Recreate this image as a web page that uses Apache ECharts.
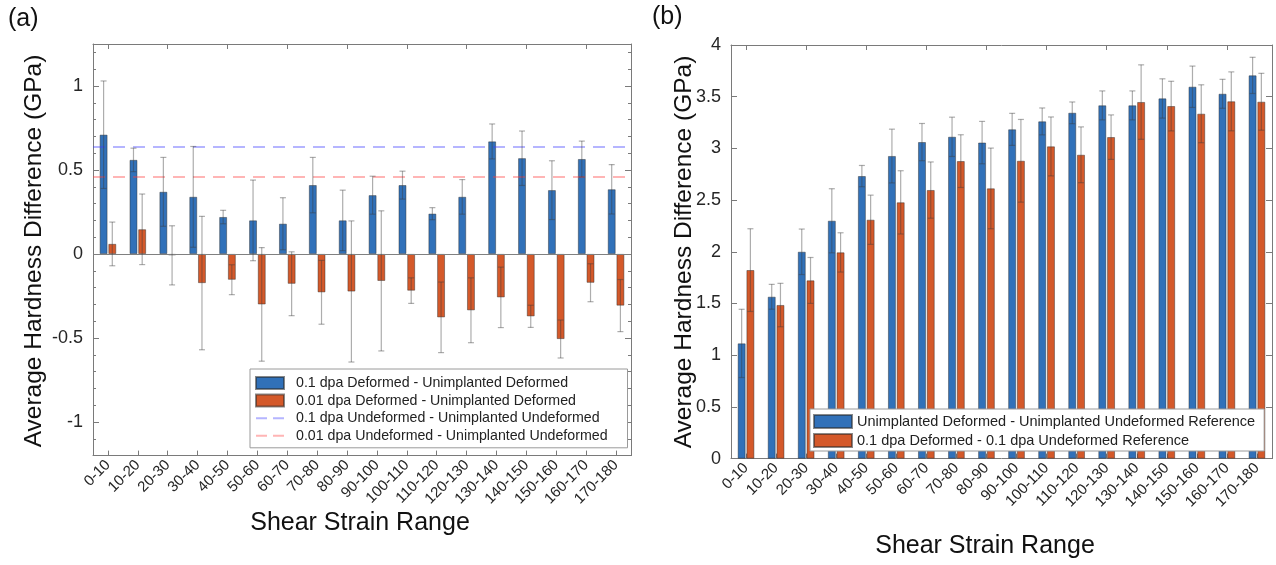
<!DOCTYPE html>
<html><head><meta charset="utf-8">
<script src="https://cdn.jsdelivr.net/npm/echarts@6/dist/echarts.min.js"></script>
<style>html,body{margin:0;padding:0;background:#fff}#c{width:1276px;height:565px}</style>
</head><body><div id="c"></div>
<script>
const categories = ['0-10','10-20','20-30','30-40','40-50','50-60','60-70','70-80','80-90','90-100','100-110','110-120','120-130','130-140','140-150','150-160','160-170','170-180'];

// Panel (a)
const aBlueName = '0.1 dpa Deformed - Unimplanted Deformed';
const aOrangeName = '0.01 dpa Deformed - Unimplanted Deformed';
const aBlueRefName = '0.1 dpa Undeformed - Unimplanted Undeformed';
const aRedRefName = '0.01 dpa Undeformed - Unimplanted Undeformed';
const aBlue = [0.71,0.56,0.37,0.34,0.22,0.20,0.18,0.41,0.20,0.35,0.41,0.24,0.34,0.67,0.57,0.38,0.565,0.385];
const aBlueErr = [0.32,0.07,0.205,0.30,0.04,0.24,0.155,0.165,0.18,0.113,0.083,0.036,0.103,0.104,0.162,0.175,0.107,0.147];
const aOrange = [0.06,0.147,-0.008,-0.173,-0.153,-0.30,-0.177,-0.228,-0.223,-0.16,-0.218,-0.377,-0.335,-0.258,-0.371,-0.506,-0.171,-0.307];
const aOrangeErr = [0.13,0.21,0.176,0.397,0.089,0.338,0.19,0.19,0.42,0.417,0.076,0.21,0.193,0.18,0.066,0.113,0.113,0.155];
const aBlueRef = 0.641;
const aRedRef = 0.4625;
const aYMajor = [-1,-0.5,0,0.5,1];

// Panel (b)
const bBlueName = 'Unimplanted Deformed - Unimplanted Undeformed Reference';
const bOrangeName = '0.1 dpa Deformed - 0.1 dpa Undeformed Reference';
const bBlue = [1.114,1.565,2.0,2.30,2.732,2.926,3.061,3.112,3.056,3.184,3.261,3.344,3.416,3.416,3.483,3.596,3.528,3.706];
const bBlueErr = [0.33,0.12,0.22,0.31,0.103,0.26,0.18,0.19,0.205,0.155,0.13,0.105,0.14,0.14,0.19,0.2,0.14,0.175];
const bOrange = [1.823,1.485,1.723,1.994,2.31,2.478,2.597,2.877,2.613,2.88,3.019,2.938,3.109,3.448,3.409,3.335,3.455,3.451];
const bOrangeErr = [0.40,0.21,0.222,0.19,0.238,0.306,0.272,0.255,0.39,0.40,0.285,0.27,0.215,0.36,0.24,0.28,0.285,0.275];

const FONT = '"Liberation Sans", Arial, Helvetica, sans-serif';
const BLUE = '#3171b9';
const ORANGE = '#d4592a';
const FRAME = '#7a7a7a';
const BAR_W = 0.26, BAR_GAP = 0.12;
const DASH_ICON = 'path://M0,5h11v2H0z M17,5h11v2H17z M0,0h0.01v0.01H0z M27.99,11.99h0.01v0.01h-0.01z';

function errSeries(name, xi, yi, vals, errs, side) {
  return {
    type: 'custom', name: name + ' err', xAxisIndex: xi, yAxisIndex: yi, z: 5, silent: true,
    encode: {x: 0, y: 1},
    data: vals.map((v, i) => [i, v, errs[i]]),
    renderItem: function (params, api) {
      const i = api.value(0), v = api.value(1), e = api.value(2);
      const band = api.size([1, 0])[0];
      const w = band * BAR_W;
      const off = (w + w * BAR_GAP) / 2 * side;
      const t = api.coord([i, v + e]);
      const b = api.coord([i, v - e]);
      const x = t[0] + off, cap = 3;
      const st = {stroke: 'rgba(60,60,60,0.42)', lineWidth: 1.2};
      return {type: 'group', children: [
        {type: 'line', shape: {x1: x, y1: t[1], x2: x, y2: b[1]}, style: st},
        {type: 'line', shape: {x1: x - cap, y1: t[1], x2: x + cap, y2: t[1]}, style: st},
        {type: 'line', shape: {x1: x - cap, y1: b[1], x2: x + cap, y2: b[1]}, style: st}
      ]};
    }
  };
}

function barSeries(name, xi, yi, vals, color, extra) {
  return Object.assign({
    type: 'bar', name: name, xAxisIndex: xi, yAxisIndex: yi, data: vals,
    barWidth: (BAR_W * 100) + '%', barGap: (BAR_GAP * 100) + '%',
    itemStyle: {color: color, borderColor: 'rgba(40,40,40,0.55)', borderWidth: 0.8},
    emphasis: {disabled: true}, animation: false
  }, extra || {});
}

function catAxis(gi, pos, labels) {
  return {
    type: 'category', gridIndex: gi, position: pos, data: categories,
    axisLine: {show: true, onZero: false, lineStyle: {color: FRAME, width: 1}},
    axisTick: {show: true, inside: true, alignWithLabel: true, length: 5, lineStyle: {color: FRAME}},
    axisLabel: labels ? {show: true, rotate: 45, interval: 0, fontSize: 15, color: '#262626', fontFamily: FONT, margin: 7} : {show: false},
    splitLine: {show: false}
  };
}

function valAxis(gi, pos, min, max, o) {
  return Object.assign({type: 'value', gridIndex: gi, position: pos, min: min, max: max, splitLine: {show: false}}, o);
}

const option = {
  animation: false,
  textStyle: {fontFamily: FONT},
  grid: [
    {left: 93, top: 44, width: 538, height: 411.6},
    {left: 731, top: 45, width: 541, height: 413.6}
  ],
  xAxis: [
    catAxis(0, 'bottom', true), catAxis(0, 'top', false),
    catAxis(1, 'bottom', true), catAxis(1, 'top', false)
  ],
  yAxis: [
    valAxis(0, 'left', -1.2, 1.25, {
      axisLine: {show: true, onZero: false, lineStyle: {color: FRAME}},
      axisTick: {show: true, inside: true, length: 6, customValues: aYMajor, lineStyle: {color: FRAME}},
      axisLabel: {show: true, customValues: aYMajor, fontSize: 18, color: '#262626', fontFamily: FONT, margin: 10}}),
    valAxis(0, 'left', -1.2, 1.25, {interval: 0.1,
      axisLine: {show: false}, axisTick: {show: true, inside: true, length: 3, lineStyle: {color: FRAME}},
      axisLabel: {show: false}}),
    valAxis(0, 'right', -1.2, 1.25, {
      axisLine: {show: true, onZero: false, lineStyle: {color: FRAME}},
      axisTick: {show: true, inside: true, length: 6, customValues: aYMajor, lineStyle: {color: FRAME}},
      axisLabel: {show: false}}),
    valAxis(0, 'right', -1.2, 1.25, {interval: 0.1,
      axisLine: {show: false}, axisTick: {show: true, inside: true, length: 3, lineStyle: {color: FRAME}},
      axisLabel: {show: false}}),
    valAxis(1, 'left', 0, 4, {interval: 0.5,
      axisLine: {show: true, onZero: false, lineStyle: {color: FRAME}},
      axisTick: {show: true, inside: true, length: 6, lineStyle: {color: FRAME}},
      axisLabel: {show: true, fontSize: 18, color: '#262626', fontFamily: FONT, margin: 10}}),
    valAxis(1, 'right', 0, 4, {interval: 0.5,
      axisLine: {show: true, onZero: false, lineStyle: {color: FRAME}},
      axisTick: {show: true, inside: true, length: 6, lineStyle: {color: FRAME}},
      axisLabel: {show: false}})
  ],
  legend: [
    {data: [{name: aBlueName, icon: 'rect'}, {name: aOrangeName, icon: 'rect'},
            {name: aBlueRefName, icon: DASH_ICON}, {name: aRedRefName, icon: DASH_ICON}],
      orient: 'vertical', left: 250, top: 369,
      itemWidth: 28, itemHeight: 12, itemGap: 3.6, padding: [7, 20, 5, 5], selectedMode: false,
      borderColor: '#9a9a9a', borderWidth: 1, backgroundColor: '#fff', borderRadius: 0,
      textStyle: {fontSize: 14.2, color: '#222', fontFamily: FONT, padding: [0, 0, 0, 7]}},
    {data: [{name: bBlueName, icon: 'rect'}, {name: bOrangeName, icon: 'rect'}],
      orient: 'vertical', left: 810, top: 409,
      itemWidth: 38, itemHeight: 13, itemGap: 4, padding: [5, 9, 3, 3], selectedMode: false,
      borderColor: '#9a9a9a', borderWidth: 1, backgroundColor: '#fff', borderRadius: 0,
      textStyle: {fontSize: 14.5, color: '#222', fontFamily: FONT}}
  ],
  series: [
    barSeries(aBlueName, 0, 0, aBlue, BLUE, {
      markLine: {silent: true, symbol: 'none', label: {show: false}, animation: false,
        lineStyle: {color: '#808080', width: 1, type: 'solid'}, data: [{yAxis: 0}]}
    }),
    barSeries(aOrangeName, 0, 0, aOrange, ORANGE),
    errSeries(aBlueName, 0, 0, aBlue, aBlueErr, -1),
    errSeries(aOrangeName, 0, 0, aOrange, aOrangeErr, 1),
    {type: 'line', name: aBlueRefName, xAxisIndex: 0, yAxisIndex: 0, data: [], symbol: 'none',
      color: 'rgba(60,60,255,0.38)', itemStyle: {color: 'rgba(60,60,255,0.38)'},
      lineStyle: {color: 'rgba(60,60,255,0.38)', width: 2, type: [11, 6]},
      markLine: {silent: true, symbol: 'none', label: {show: false}, animation: false,
        lineStyle: {color: 'rgba(60,60,255,0.38)', width: 2, type: [12, 8]}, data: [{yAxis: aBlueRef}]}},
    {type: 'line', name: aRedRefName, xAxisIndex: 0, yAxisIndex: 0, data: [], symbol: 'none',
      color: 'rgba(255,60,60,0.38)', itemStyle: {color: 'rgba(255,60,60,0.38)'},
      lineStyle: {color: 'rgba(255,60,60,0.38)', width: 2, type: [11, 6]},
      markLine: {silent: true, symbol: 'none', label: {show: false}, animation: false,
        lineStyle: {color: 'rgba(255,60,60,0.38)', width: 2, type: [12, 8]}, data: [{yAxis: aRedRef}]}},
    barSeries(bBlueName, 2, 4, bBlue, BLUE),
    barSeries(bOrangeName, 2, 4, bOrange, ORANGE),
    errSeries(bBlueName, 2, 4, bBlue, bBlueErr, -1),
    errSeries(bOrangeName, 2, 4, bOrange, bOrangeErr, 1)
  ],
  graphic: [
    {type: 'text', left: 8, top: 7, style: {text: '(a)', font: '25px ' + FONT, fill: '#111'}},
    {type: 'text', left: 652, top: 5, style: {text: '(b)', font: '25px ' + FONT, fill: '#111'}},
    {type: 'text', x: 34, y: 251, rotation: Math.PI / 2,
      style: {text: 'Average Hardness Difference (GPa)', font: '24.5px ' + FONT, fill: '#111', align: 'center', verticalAlign: 'middle'}},
    {type: 'text', x: 684, y: 252, rotation: Math.PI / 2,
      style: {text: 'Average Hardness Difference (GPa)', font: '24.5px ' + FONT, fill: '#111', align: 'center', verticalAlign: 'middle'}},
    {type: 'text', x: 360, y: 523,
      style: {text: 'Shear Strain Range', font: '25px ' + FONT, fill: '#111', align: 'center', verticalAlign: 'middle'}},
    {type: 'text', x: 985, y: 546,
      style: {text: 'Shear Strain Range', font: '25px ' + FONT, fill: '#111', align: 'center', verticalAlign: 'middle'}}
  ]
};
const chart = echarts.init(document.getElementById('c'), null, {renderer: 'canvas'});
chart.setOption(option);
</script></body></html>
